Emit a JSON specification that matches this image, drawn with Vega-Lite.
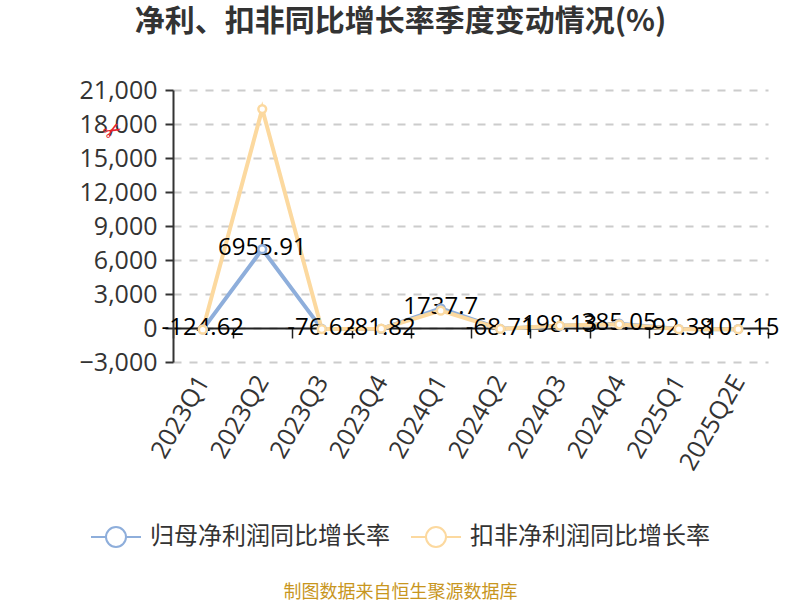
{"$schema":"https://vega.github.io/schema/vega-lite/v6.json","width":595,"height":272,"autosize":"none","padding":{"left":173,"top":90,"right":32,"bottom":238},"background":"white",
"title":{"text":"净利、扣非同比增长率季度变动情况(%)","fontSize":30,"fontWeight":"bold","color":"#333333","font":"Noto Sans CJK SC","anchor":"middle","frame":"group","dx":-70,"dy":-7,"baseline":"bottom"},
"config":{"font":"Open Sans","view":{"stroke":null}},
"data":{"values":[
{"q":"2023Q1","s":"归母净利润同比增长率","v":-124.62},{"q":"2023Q2","s":"归母净利润同比增长率","v":6955.91},{"q":"2023Q3","s":"归母净利润同比增长率","v":-76.62},{"q":"2023Q4","s":"归母净利润同比增长率","v":-81.82},{"q":"2024Q1","s":"归母净利润同比增长率","v":1737.7},{"q":"2024Q2","s":"归母净利润同比增长率","v":-68.71},{"q":"2024Q3","s":"归母净利润同比增长率","v":198.13},{"q":"2024Q4","s":"归母净利润同比增长率","v":385.05},{"q":"2025Q1","s":"归母净利润同比增长率","v":-92.38},{"q":"2025Q2E","s":"归母净利润同比增长率","v":-107.15},
{"q":"2023Q1","s":"扣非净利润同比增长率","v":-150},{"q":"2023Q2","s":"扣非净利润同比增长率","v":19320},{"q":"2023Q3","s":"扣非净利润同比增长率","v":-90},{"q":"2023Q4","s":"扣非净利润同比增长率","v":-60},{"q":"2024Q1","s":"扣非净利润同比增长率","v":1530},{"q":"2024Q2","s":"扣非净利润同比增长率","v":-80},{"q":"2024Q3","s":"扣非净利润同比增长率","v":220},{"q":"2024Q4","s":"扣非净利润同比增长率","v":320},{"q":"2025Q1","s":"扣非净利润同比增长率","v":-100},{"q":"2025Q2E","s":"扣非净利润同比增长率","v":-100}
]},
"encoding":{
"x":{"field":"q","type":"nominal","sort":null,"scale":{"type":"band","paddingInner":0,"paddingOuter":0},"axis":{"orient":"bottom","offset":-34,"title":"制图数据来自恒生聚源数据库","titleFont":"Noto Sans CJK SC","titleFontSize":18,"titleFontWeight":"normal","titleColor":"#C8961E","titleX":227,"titleY":264,"titleBaseline":"middle","labelAngle":-60,"labelAlign":"right","labelBaseline":"middle","labelFontSize":25,"labelColor":"#333333","labelPadding":39,"labelOverlap":false,"labelFlush":false,"domainColor":"#222222","domainWidth":2,"tickColor":"#222222","tickWidth":1.5,"tickSize":10,"tickBand":"extent","grid":false}},
"y":{"field":"v","type":"quantitative","scale":{"domain":[-3000,21000],"nice":false},"axis":{"values":[-3000,0,3000,6000,9000,12000,15000,18000,21000],"format":",d","title":null,"labelFontSize":25,"labelColor":"#333333","labelPadding":8,"domainColor":"#333333","domainWidth":2,"tickColor":"#333333","tickWidth":2,"tickSize":8,"grid":true,"gridColor":"#CCCCCC","gridWidth":2,"gridDash":[8,8]}}
},
"layer":[
{"mark":{"type":"line","strokeWidth":4,"clip":false},"encoding":{"color":{"field":"s","type":"nominal","sort":null,"scale":{"domain":["归母净利润同比增长率","扣非净利润同比增长率"],"range":["#8EAEDB","#FCD99F"]},"legend":{"orient":"none","legendX":-83,"legendY":421,"direction":"horizontal","title":null,"symbolType":"M-1,0 L-0.4,0 M0.4,0 A0.4,0.4 0 1 1 -0.4,0 A0.4,0.4 0 1 1 0.4,0 M0.4,0 L1,0","symbolSize":2500,"symbolStrokeWidth":2,"symbolFillColor":"white","labelFont":"Noto Sans CJK SC","labelFontSize":24,"labelColor":"#333333","labelOffset":8,"columnPadding":17,"padding":0,"labelLimit":400}}}},
{"transform":[{"filter":"datum.s === '归母净利润同比增长率'"}],"mark":{"type":"text","fontSize":24,"color":"#000000","font":"Open Sans","dy":-1,"baseline":"middle"},"encoding":{"text":{"field":"v","type":"nominal"}}},
{"mark":{"type":"point","filled":false,"fill":"white","opacity":1,"size":60,"strokeWidth":2.5},"encoding":{"stroke":{"field":"s","type":"nominal","sort":null,"scale":{"domain":["归母净利润同比增长率","扣非净利润同比增长率"],"range":["#8EAEDB","#FCD99F"]},"legend":null}}},
{"data":{"values":[{"q":"2023Q1","v":17380,"t":"✂"}]},"mark":{"type":"text","fontSize":22,"color":"#E8212B","font":"DejaVu Sans","dx":-78,"dy":-45,"angle":-30,"baseline":"middle"},"encoding":{"text":{"field":"t","type":"nominal"}}}
]}
